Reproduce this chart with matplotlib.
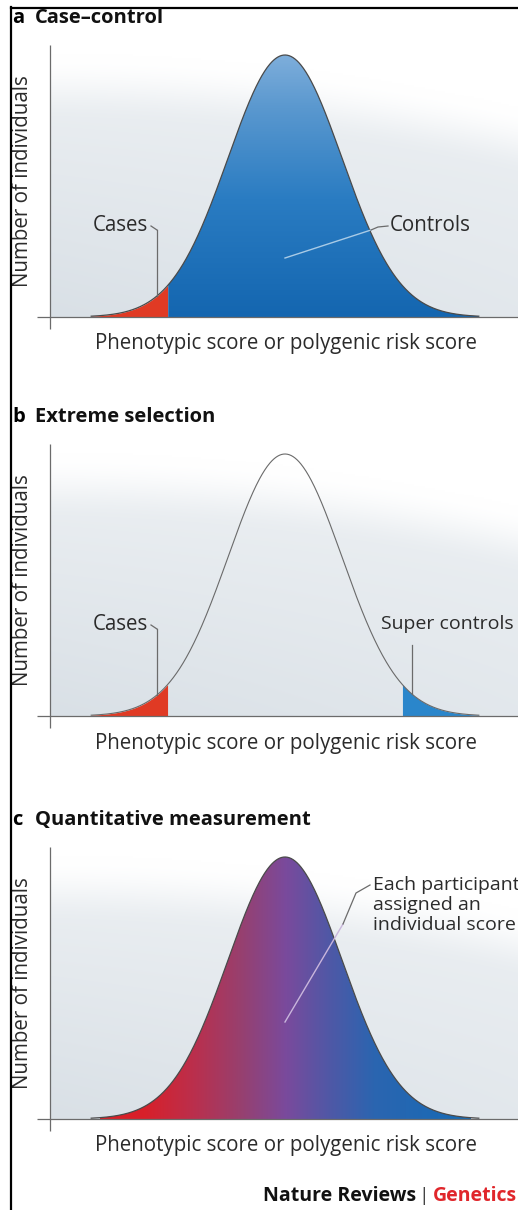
import numpy as np
import matplotlib
matplotlib.use("Agg")
import matplotlib.pyplot as plt
from matplotlib.colors import LinearSegmentedColormap, to_rgb
from matplotlib.patches import Polygon

# ---------------- data ----------------
panel_letters = ["a", "b", "c"]
panel_titles = ["Case\u2013control", "Extreme selection", "Quantitative measurement"]
x_label = "Phenotypic score or polygenic risk score"
y_label = "Number of individuals"
dist_mean = 0.0          # score distribution (standardised)
dist_sd = 1.0
case_cutoff = -2.05      # lower tail = cases
super_control_cutoff = 2.05  # upper tail = super controls
curve_limits = [-3.4, 3.4]
footer = ["Nature Reviews", "|", "Genetics"]

# ---------------- layout (pixels) ----------------
W, H = 518, 1210
X0_PX, SD_PX = 285.0, 57.0      # mean position and sd in px
PEAK_PX = 262.0                 # curve height in px
BASE_PX = [317, 716, 1119]      # x-axis line of each panel
YAX_PX = 50                     # y-axis line x-position

FONT = ["Open Sans", "DejaVu Sans"]
plt.rcParams["font.family"] = FONT

fig = plt.figure(figsize=(W / 100, H / 100), dpi=100)
fig.patch.set_facecolor("white")


def px2x(px):
    return (px - X0_PX) / SD_PX


def dy(pixels):
    return pixels / PEAK_PX


def pdf(z):
    return np.exp(-0.5 * ((z - dist_mean) / dist_sd) ** 2)


z = np.linspace(curve_limits[0], curve_limits[1], 600)
yv = pdf(z)

# background gradient image
def background():
    nu, nv = 240, 140
    u = np.linspace(0, 1, nu)[None, :]
    v = np.linspace(0, 1, nv)[:, None]      # 0 = top, 1 = bottom
    b = 0.03 + 0.20 * u ** 2
    s = np.clip((v - b) / 0.25, 0, 1)
    s = s * s * (3 - 2 * s)
    lvl = s * (0.45 + 0.55 * v * (1 - 0.45 * u))
    white = np.array([1.0, 1.0, 1.0])
    gray = np.array(to_rgb("#d9e0e6"))
    img = white[None, None, :] * (1 - lvl[..., None]) + gray[None, None, :] * lvl[..., None]
    return img

bg_img = background()

blue_cmap = LinearSegmentedColormap.from_list(
    "bl", [(0.0, "#1466b0"), (0.45, "#2a7cc2"), (0.8, "#5a98cf"), (1.0, "#7eaedb")])
spec_cmap = LinearSegmentedColormap.from_list(
    "sp", [(0.0, "#dc1f26"), (0.12, "#d8202a"), (0.25, "#bb2f4c"), (0.38, "#97406f"),
           (0.5, "#7a4a9c"), (0.62, "#4f58a6"), (0.74, "#2b65b0"), (1.0, "#156bb6")])

axis_col = "#6b6b6b"
text_col = "#2b2b2b"
fs = 14.8
fs_small = 14.0

for i, B in enumerate(BASE_PX):
    top_px = B - 310
    bot_px = B + 50
    ax = fig.add_axes([0, 1 - bot_px / H, 1, (bot_px - top_px) / H])
    ax.set_xlim(px2x(0), px2x(W))
    ax.set_ylim(-dy(50), dy(310))
    ax.axis("off")

    ytop = dy(272)
    xl = px2x(YAX_PX)
    xr = px2x(W)
    ax.imshow(bg_img, extent=[xl, xr, 0, ytop], aspect="auto", zorder=0,
              interpolation="bilinear")

    # axes lines
    ax.plot([xl, xl], [-dy(12), ytop], color=axis_col, lw=0.9, zorder=5,
            solid_capstyle="butt")
    ax.plot([px2x(37), xr], [0, 0], color=axis_col, lw=0.9, zorder=5,
            solid_capstyle="butt")

    if i == 0:
        m = z >= case_cutoff
        verts = np.column_stack([np.r_[z[m], z[m][::-1]], np.r_[yv[m], np.zeros(m.sum())]])
        poly = Polygon(verts, closed=True, facecolor="none", edgecolor="none")
        ax.add_patch(poly)
        grad = np.linspace(0, 1, 256)[:, None]
        im = ax.imshow(grad, extent=[case_cutoff, curve_limits[1], 0, 1], origin="lower",
                       cmap=blue_cmap, aspect="auto", zorder=2, interpolation="bilinear")
        im.set_clip_path(poly)
        mr = z <= case_cutoff
        ax.fill_between(z[mr], 0, yv[mr], color="#e03a24", lw=0, zorder=2)
        ax.plot(z, yv, color="#4a4a4a", lw=0.9, zorder=4)
    elif i == 1:
        mr = z <= case_cutoff
        ax.fill_between(z[mr], 0, yv[mr], color="#e03a24", lw=0, zorder=2)
        mb = z >= super_control_cutoff
        ax.fill_between(z[mb], 0, yv[mb], color="#2a86cb", lw=0, zorder=2)
        ax.plot(z, yv, color="#6a6a6a", lw=0.8, zorder=4)
    else:
        verts = np.column_stack([np.r_[z, z[::-1]], np.r_[yv, np.zeros(len(z))]])
        poly = Polygon(verts, closed=True, facecolor="none", edgecolor="none")
        ax.add_patch(poly)
        grad = np.linspace(0, 1, 512)[None, :]
        im = ax.imshow(grad, extent=[px2x(100), px2x(470), 0, 1], origin="lower",
                       cmap=spec_cmap, aspect="auto", zorder=2, interpolation="bilinear")
        im.set_clip_path(poly)
        ax.plot(z, yv, color="#4a4a4a", lw=0.9, zorder=4)

    # annotations
    if i in (0, 1):
        # Cases label with leader line
        xc = px2x(157)
        ax.plot([xc, xc], [pdf(xc), dy(87)], color=axis_col, lw=0.9, zorder=6)
        ax.plot([px2x(151), xc], [dy(91), dy(87)], color=axis_col, lw=0.9, zorder=6)
        ax.text(px2x(148), dy(91), "Cases", ha="right", va="center", fontsize=fs,
                color=text_col, zorder=7)
    if i == 0:
        xa, ya = px2x(285), dy(59)
        xb, yb = px2x(371), dy(87)
        ax.plot([xa, xb], [ya, yb], color="#a9cbe6", lw=1.0, zorder=6)
        ax.plot([xb, px2x(378), px2x(388)], [yb, dy(90), dy(91)], color=axis_col,
                lw=0.9, zorder=6)
        ax.text(px2x(390), dy(91), "Controls", ha="left", va="center", fontsize=fs,
                color=text_col, zorder=7)
    if i == 1:
        xs = px2x(412)
        ax.plot([xs, xs], [pdf(xs), dy(B - 645)], color=axis_col, lw=0.9, zorder=6)
        ax.text(px2x(447), dy(B - 624), "Super controls", ha="center", va="center",
                fontsize=fs_small, color=text_col, zorder=7)
    if i == 2:
        ax.plot([px2x(285), px2x(343)], [dy(97), dy(195)], color="#c9b6dc", lw=1.0, zorder=6)
        ax.plot([px2x(343), px2x(356), px2x(370)], [dy(195), dy(226), dy(234)],
                color=axis_col, lw=0.9, zorder=6)
        ax.text(px2x(373), dy(B - 905), "Each participant\nassigned an\nindividual score",
                ha="left", va="center", fontsize=fs_small, color=text_col, zorder=7,
                linespacing=1.17)

    # axis labels
    ax.text(px2x(286), -dy(27), x_label, ha="center", va="center", fontsize=fs,
            color=text_col)
    ax.text(px2x(22), dy(136), y_label, ha="center", va="center", rotation=90,
            fontsize=fs, color=text_col)

    # titles
    ty = B - 299
    fig.text(12 / W, 1 - ty / H, panel_letters[i], ha="left", va="center",
             fontsize=14.5, fontweight="bold", color="black")
    fig.text(35 / W, 1 - ty / H, panel_titles[i], ha="left", va="center",
             fontsize=14.5, fontweight="bold", color="#111111")

# footer
fig.text(263 / W, 1 - 1196 / H, footer[0], ha="left", va="center", fontsize=14,
         fontweight="bold", color="#111111")
fig.text(424 / W, 1 - 1196 / H, footer[1], ha="center", va="center", fontsize=14,
         color="#444444")
fig.text(433 / W, 1 - 1196 / H, footer[2], ha="left", va="center", fontsize=14,
         fontweight="bold", color="#e0262b")

# frame lines (left and top)
fig.add_artist(plt.Line2D([10.5 / W, 10.5 / W], [0, 1 - 7 / H], color="black", lw=1.6))
fig.add_artist(plt.Line2D([10.5 / W, 1], [1 - 7.5 / H, 1 - 7.5 / H], color="black", lw=1.6))

fig.savefig("out.png", dpi=100)
